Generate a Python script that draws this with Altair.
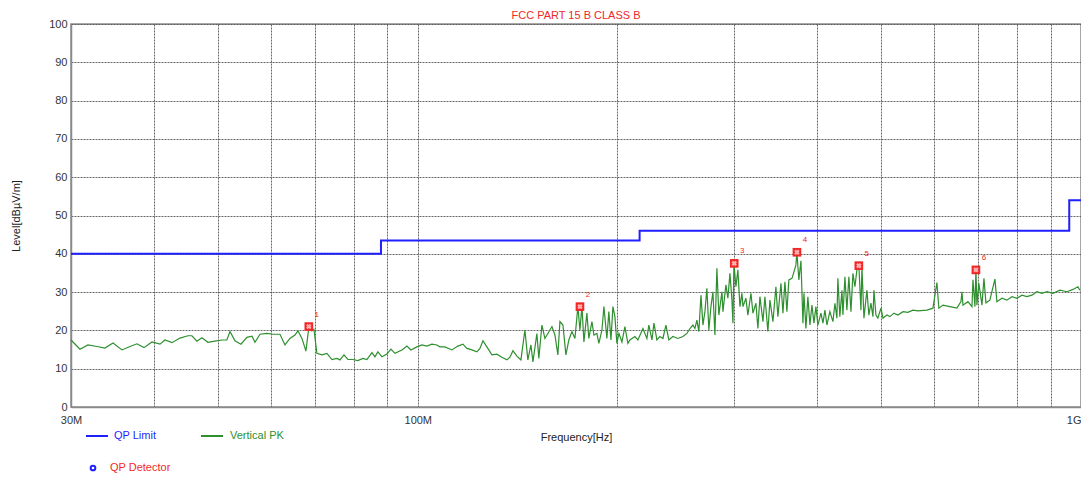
import altair as alt
import pandas as pd

TITLE = "FCC PART 15 B CLASS B"
X_TITLE = "Frequency[Hz]"
Y_TITLE = "Level[dBµV/m]"

# QP limit (MHz, dBuV/m)
LIMIT_FREQ_MHZ = [30, 88, 88, 216, 216, 960, 960, 1000]
LIMIT_LEVEL = [40, 40, 43.5, 43.5, 46, 46, 54, 54]

# Vertical PK trace (MHz, dBuV/m)
PK_FREQ_MHZ = [
    30.0, 30.95, 31.82, 32.83, 33.75, 34.71, 35.81, 36.82, 37.72, 38.65,
    39.74, 40.86, 41.57, 42.60, 43.80, 45.02, 45.66, 46.45, 47.27, 48.26,
    49.45, 50.67, 51.54, 52.10, 53.01, 54.12, 55.25, 56.24,
    56.82, 57.82, 59.23, 60.49, 61.97, 63.06, 64.16, 65.28, 65.95, 66.89,
    67.82, 68.52, 69.25, 69.73, 70.45, 71.70, 72.94, 74.23, 75.52, 76.32,
    77.39, 78.46, 79.84, 81.22, 82.66, 83.80, 85.29, 86.17, 87.06, 88.30,
    89.83, 91.10, 92.37, 94.65, 96.29, 97.65, 99.69, 101.45, 103.21, 105.03,
    106.86, 107.99,
    109.88, 112.59, 114.93, 116.97, 118.59, 120.69, 122.78, 124.08, 125.38, 127.11,
    129.36, 131.60, 133.93, 136.26, 137.70, 139.14, 141.07, 143.06, 145.05, 146.54,
    148.12, 149.15, 151.21, 152.24, 153.88, 155.48, 157.09, 159.32, 160.98, 162.64,
    163.81, 165.52, 167.24, 168.96, 170.78, 172.56, 174.34, 175.59, 176.81, 178.04,
    179.88, 181.11, 183.05, 184.32, 186.23, 187.50, 189.53, 190.84, 192.81, 194.13,
    195.54, 196.90, 198.26, 199.62, 201.04, 203.15, 205.27, 207.38,
    208.87, 212.52, 214.71, 218.52, 221.54, 223.05, 225.45, 227.02, 229.36, 231.80,
    234.23, 236.66, 239.09, 242.51, 246.70, 251.08, 254.55, 257.25, 259.95, 261.74,
    263.54, 265.34, 267.27, 269.13, 270.99, 272.85, 274.71, 276.71, 278.64, 280.56,
    282.49, 284.41, 287.49, 288.48, 291.48, 293.47, 295.58, 297.64, 298.67, 299.71,
    301.77, 303.84, 306.02, 308.16, 309.23, 312.43, 314.57, 317.94, 320.15, 323.47,
    325.69, 328.02, 331.46, 333.75, 337.19,
    339.61, 343.17, 346.73, 349.10, 352.84, 355.30, 357.75, 360.21, 362.66, 366.58,
    369.12, 371.67, 372.94, 375.48, 378.21, 380.84, 382.16, 384.79, 387.42, 390.21,
    392.93, 395.66, 398.38, 401.11, 405.41, 408.23, 411.05, 413.87, 418.11, 422.65,
    425.57, 428.49, 429.95, 432.88, 436.07, 437.58, 440.61, 443.63, 446.66, 449.91,
    453.04, 456.17, 459.30, 462.44, 465.81, 467.43, 470.67, 475.54, 478.78, 482.27,
    485.63, 487.30, 490.66, 494.02, 499.31, 502.79, 509.74, 514.95, 522.34, 529.53,
    538.93, 548.25, 557.98, 567.62,
    585.67, 598.09, 606.36, 610.49, 619.23, 634.45, 649.96, 659.17, 661.46, 663.76,
    675.23, 684.83, 687.21, 691.96, 694.33, 696.71, 701.46, 709.03, 713.95, 718.86,
    728.70, 741.71, 746.80, 760.02, 773.19, 786.87, 800.51, 814.67, 828.80, 843.45,
    858.07, 873.25, 888.39, 907.23, 929.55, 952.28, 972.47, 989.28, 996.0,
]
PK_LEVEL = [
    17.5, 15.1, 16.2, 15.8, 15.4, 16.7, 14.9, 15.8, 16.5, 15.5,
    17.0, 16.4, 17.5, 16.8, 18.0, 18.6, 18.6, 17.2, 18.1, 16.9,
    17.2, 17.5, 17.5, 19.7, 17.3, 16.4, 18.2, 18.5,
    16.9, 19.0, 19.2, 19.0, 19.0, 16.2, 17.9, 18.8, 19.9, 17.9,
    14.6, 21.0, 19.9, 20.3, 14.0, 13.6, 14.0, 12.4, 12.7, 12.3,
    13.6, 12.4, 12.4, 12.1, 12.7, 12.4, 14.2, 13.1, 14.4, 13.1,
    13.8, 15.1, 14.0, 14.9, 15.9, 14.9, 15.7, 16.2, 15.9, 16.4,
    16.2, 15.7,
    15.7, 14.9, 15.9, 16.4, 15.3, 14.9, 14.4, 15.3, 17.3, 15.7,
    13.6, 13.8, 13.0, 12.3, 13.0, 14.7, 13.3, 12.3, 20.1, 12.3,
    16.2, 11.8, 19.2, 12.7, 21.4, 17.9, 19.2, 21.0, 18.8, 13.6,
    22.3, 21.4, 13.6, 17.5, 19.7, 17.9, 26.2, 20.1, 26.2, 17.0,
    24.5, 17.9, 22.3, 18.8, 19.2, 16.6, 20.1, 26.2, 17.9, 24.9,
    17.5, 26.2, 23.6, 16.6, 19.2, 17.0, 21.0, 16.6,
    17.5, 18.4, 17.5, 20.5, 17.9, 21.4, 17.5, 21.9, 17.5, 18.4,
    17.9, 21.4, 17.5, 18.4, 17.9, 18.4, 19.2, 20.5, 21.4, 20.5,
    22.7, 19.7, 29.2, 21.4, 24.9, 31.0, 20.1, 26.2, 30.1, 18.8,
    36.2, 24.0, 30.1, 24.9, 31.9, 28.4, 34.9, 27.9, 21.9, 37.5,
    31.4, 35.8, 26.2, 29.7, 26.2, 28.4, 24.0, 29.7, 24.5, 27.1,
    20.5, 28.8, 22.3, 28.8, 19.7,
    27.9, 22.3, 31.4, 23.6, 32.3, 24.5, 32.7, 24.9, 33.2, 33.6,
    35.3, 37.1, 40.3, 33.2, 38.2, 21.9, 29.7, 20.5, 28.8, 21.4,
    26.6, 21.9, 26.2, 21.4, 24.5, 21.9, 25.3, 21.4, 24.9, 22.3,
    27.1, 23.2, 33.6, 23.6, 30.5, 24.0, 34.0, 25.3, 34.0, 24.9,
    34.9, 31.4, 35.8, 37.1, 25.3, 36.6, 23.2, 30.5, 24.0, 27.1,
    23.6, 30.5, 24.0, 23.2, 25.8, 23.2, 24.0, 23.6, 24.5, 24.0,
    24.9, 24.7, 25.3, 25.1,
    25.3, 25.8, 32.5, 25.8, 26.6, 26.2, 25.8, 27.5, 30.1, 26.6,
    27.5, 26.2, 33.2, 26.2, 35.9, 26.6, 32.3, 26.6, 33.6, 27.2,
    27.9, 33.4, 27.5, 28.4, 27.9, 28.8, 28.4, 29.2, 28.8, 29.2,
    30.1, 29.7, 30.1, 29.7, 30.5, 30.1, 30.7, 31.4, 30.5,
]

MARKER_ID = ["1", "2", "3", "4", "5", "6"]
MARKER_FREQ_MHZ = [68.5, 175.6, 300.0, 373.0, 462.4, 694.3]
MARKER_LEVEL = [21.0, 26.2, 37.5, 40.4, 36.9, 35.8]

X_GRID_MHZ = [30, 40, 50, 60, 70, 80, 90, 100, 200, 300, 400, 500, 600, 700, 800, 900, 1000]
Y_TICKS = [0, 10, 20, 30, 40, 50, 60, 70, 80, 90, 100]

LEGEND_LIMIT = "QP Limit"
LEGEND_PK = "Vertical PK"
LEGEND_DET = "QP Detector"

FONT = "Liberation Sans"
BLUE = "#1f1fff"
GREEN = "#2e8f2e"
RED = "#f02828"
GRID = "#555555"

limit_df = pd.DataFrame({"f": LIMIT_FREQ_MHZ, "lvl": LIMIT_LEVEL, "i": range(len(LIMIT_LEVEL))})
pk_df = pd.DataFrame({"f": PK_FREQ_MHZ, "lvl": PK_LEVEL, "i": range(len(PK_LEVEL))})
mk_df = pd.DataFrame({"f": MARKER_FREQ_MHZ, "lvl": MARKER_LEVEL, "id": MARKER_ID})

xscale = alt.Scale(type="log", domain=[30, 1000], nice=False)
yscale = alt.Scale(domain=[0, 100], nice=False)

common_axis = dict(
    ticks=False, grid=True, gridColor=GRID, gridDash=[2, 1], gridWidth=0.9,
    domainColor="#8a8a8a", domainWidth=1.5, labelOverlap=False,
    labelFont=FONT, labelFontSize=11, labelColor="#333333",
    titleFont=FONT, titleFontSize=11, titleColor="#222222", titleFontWeight="normal",
)
xaxis = alt.Axis(
    values=X_GRID_MHZ,
    labelExpr="datum.value == 30 ? '30M' : datum.value == 100 ? '100M' : datum.value == 1000 ? '1G' : ''",
    title=X_TITLE, labelPadding=7, titlePadding=6, labelFlush=False,
    labelAlign={"condition": {"test": "datum.value == 1000", "value": "right"}, "value": "center"},
    **common_axis,
)
yaxis = alt.Axis(values=Y_TICKS, tickCount=11, title=Y_TITLE, labelPadding=4, titlePadding=27, **common_axis)

X = alt.X("f:Q", scale=xscale, axis=xaxis)
Y = alt.Y("lvl:Q", scale=yscale, axis=yaxis)

pk = alt.Chart(pk_df).mark_line(color=GREEN, strokeWidth=1.2).encode(x=X, y=Y, order="i:Q")
limit = alt.Chart(limit_df).mark_line(color=BLUE, strokeWidth=2).encode(x=X, y=Y, order="i:Q")
mk_sq = alt.Chart(mk_df).mark_point(shape="square", filled=True, color=RED, size=75, opacity=1).encode(x=X, y=Y)
mk_x = alt.Chart(mk_df).mark_point(shape="cross", angle=45, filled=True, color="#ffb0b0", size=30, opacity=1).encode(x=X, y=Y)
mk_txt = alt.Chart(mk_df).mark_text(color=RED, fontSize=8, dx=8, dy=-12, font=FONT).encode(x=X, y=Y, text="id:N")

# chart title as a text mark (keeps it inside the page)
title_txt = alt.Chart(pd.DataFrame({"t": [TITLE]})).mark_text(
    color=RED, fontSize=11, align="center", baseline="middle", font=FONT).encode(
    x=alt.value(505), y=alt.value(-8), text="t:N")

# custom legend below the plot
leg1_line = alt.Chart(pd.DataFrame({"t": [LEGEND_LIMIT]})).mark_rule(color=BLUE, strokeWidth=2).encode(
    x=alt.value(15), x2=alt.value(37), y=alt.value(412))
leg1_txt = alt.Chart(pd.DataFrame({"t": [LEGEND_LIMIT]})).mark_text(
    color=BLUE, fontSize=11, align="left", baseline="middle", font=FONT).encode(
    x=alt.value(43), y=alt.value(412), text="t:N")
leg2_line = alt.Chart(pd.DataFrame({"t": [LEGEND_PK]})).mark_rule(color=GREEN, strokeWidth=2).encode(
    x=alt.value(130), x2=alt.value(152), y=alt.value(412))
leg2_txt = alt.Chart(pd.DataFrame({"t": [LEGEND_PK]})).mark_text(
    color=GREEN, fontSize=11, align="left", baseline="middle", font=FONT).encode(
    x=alt.value(159), y=alt.value(412), text="t:N")
leg3_pt = alt.Chart(pd.DataFrame({"t": [LEGEND_DET]})).mark_point(
    shape="circle", filled=False, color=BLUE, size=22, strokeWidth=2, opacity=1).encode(
    x=alt.value(22), y=alt.value(444))
leg3_txt = alt.Chart(pd.DataFrame({"t": [LEGEND_DET]})).mark_text(
    color=RED, fontSize=11, align="left", baseline="middle", font=FONT).encode(
    x=alt.value(39), y=alt.value(444), text="t:N")

chart = alt.layer(
    pk, limit, mk_sq, mk_x, mk_txt, title_txt,
    leg1_line, leg1_txt, leg2_line, leg2_txt, leg3_pt, leg3_txt,
).properties(
    width=1010, height=383,
    padding={"left": 63, "top": 16, "right": 0, "bottom": 68},
    autosize=alt.AutoSizeParams(type="none"),
    background="white",
).configure_view(
    stroke="#8a8a8a", strokeWidth=1.5,
)

chart.save("out.html", embed_options={"renderer": "svg", "actions": False})
